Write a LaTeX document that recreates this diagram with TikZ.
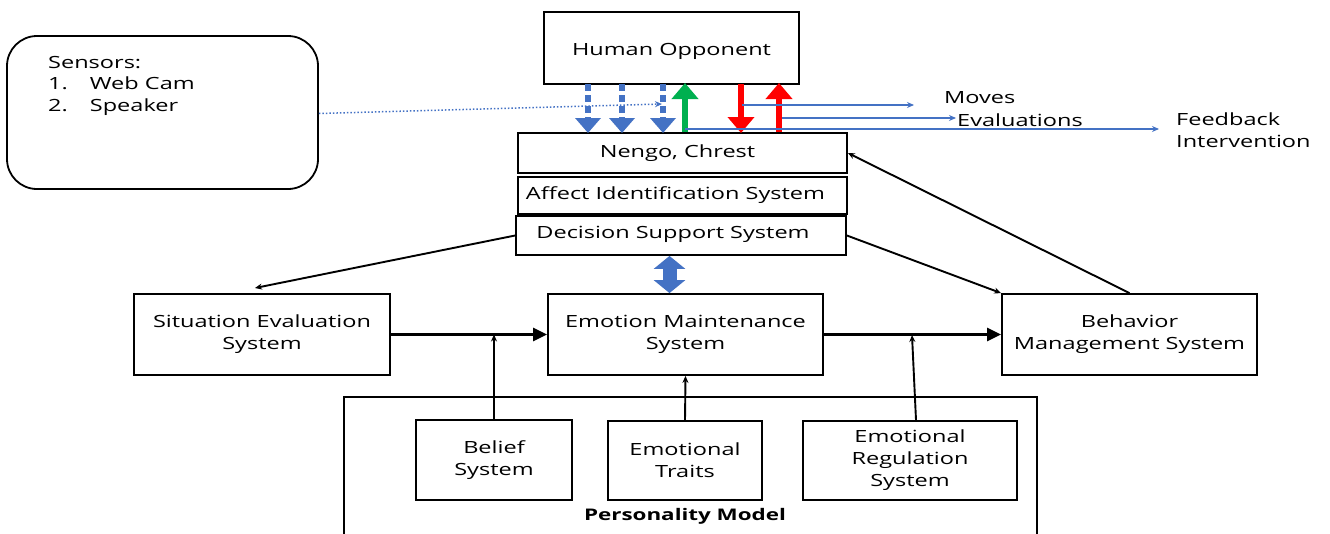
\documentclass[tikz,border=0pt]{standalone}
\usepackage{fontspec}
\setmainfont{Open Sans}[FakeStretch=1.4]
\usetikzlibrary{arrows.meta,calc}
\definecolor{oblue}{HTML}{4472C4}
\definecolor{ogreen}{HTML}{00B050}
\definecolor{ored}{HTML}{FF0000}
\begin{document}
\begin{tikzpicture}[x=1pt,y=-1pt,
  every node/.style={font=\fontsize{16.8}{22}\selectfont, inner sep=0pt},
  box/.style={draw=black, line width=1.8pt, align=center},
  link/.style={draw=black, line width=1.9pt, -{Stealth[length=7pt,width=6pt]}},
  flow/.style={draw=black, line width=2.6pt, -{Triangle[length=14pt,width=13pt]}},
  dashdown/.style={draw=oblue, line width=6.5pt, dash pattern=on 7pt off 4pt,
    -{Triangle[length=15pt,width=25pt]}},
  fat/.style={line width=6.5pt, -{Triangle[length=16pt,width=26pt]}},
  fb/.style={draw=oblue, line width=1.2pt, -{Stealth[length=7pt,width=6pt]}},
  lbl/.style={anchor=west, align=left}]
\useasboundingbox (0,0) rectangle (1330,533);

% Sensors panel
\node[draw=black, line width=1.8pt, rounded corners=30pt,
  minimum width=311pt, minimum height=153pt] (sensors) at (162.5,112.5) {};
\node[lbl, anchor=north west] (senstxt) at (48,56) {%
  Sensors:\\[-0.5pt]
  1.\hspace{22pt}Web Cam\\[-0.5pt]
  2.\hspace{22pt}Speaker};

% Top stack
\node[box, minimum width=255pt, minimum height=72pt] (human) at (671.5,48) {\raisebox{-3pt}[\height][\depth]{Human Opponent}};
\node[box, minimum width=329pt, minimum height=40pt] (nengo) at (682.5,153) {\hspace{-10pt}Nengo, Chrest};
\node[box, minimum width=329pt, minimum height=37pt] (affect) at (682.5,195.5) {\hspace{-14pt}Affect Identification System};
\node[box, minimum width=330pt, minimum height=39pt] (dss) at (681,235.5) {\hspace{-16pt}\raisebox{1.5pt}[\height][\depth]{Decision Support System}};

% Middle row
\node[box, minimum width=256pt, minimum height=81pt] (situation) at (262,334.5) {Situation Evaluation\\System};
\node[box, minimum width=275pt, minimum height=81pt] (emotion) at (685.5,334.5) {Emotion Maintenance\\System};
\node[box, minimum width=255pt, minimum height=81pt] (behavior) at (1129.5,334.5) {Behavior\\Management System};

% Personality model
\draw[line width=1.8pt] (344,545) -- (344,397) -- (1037,397) -- (1037,545);
\node[font=\fontsize{16}{18}\bfseries\selectfont] (pm) at (685,516) {Personality Model};
\node[box, minimum width=156pt, minimum height=80pt] (belief) at (494,460) {Belief\\System};
\node[box, minimum width=154pt, minimum height=79pt] (traits) at (685,460.5) {Emotional\\Traits};
\node[box, minimum width=214pt, minimum height=79pt] (regulation) at (910,460.5) {Emotional\\Regulation\\System};

% Connector end points
\coordinate (sitin) at (255,288);
\coordinate (belin) at (belief.north |- situation.east);
\coordinate (regout) at (916,420);
\coordinate (regin) at (912,335);
\coordinate (sensin) at (662,104);

% Sensor feed
\draw[oblue, line width=1.5pt, dotted, -{Stealth[length=7pt,width=6pt]}] (sensors.east) ++(0,1) -- (sensin);

% Dashed input arrows into Nengo
\foreach \xx/\nm in {588/d1,622/d2,663/d3}{
  \coordinate (\nm a) at (\xx,84);
  \coordinate (\nm b) at (\xx,133);
  \draw[dashdown] (\nm a) -- (\nm b);
}
% Green and red arrows
\coordinate (ga) at (685,132); \coordinate (gb) at (685,83);
\draw[ogreen, fat] (ga) -- (gb);
\coordinate (ra) at (741,84); \coordinate (rb) at (741,133);
\draw[ored, fat] (ra) -- (rb);
\coordinate (rc) at (779,132); \coordinate (rd) at (779,83);
\draw[ored, fat] (rc) -- (rd);

% Outputs
\coordinate (mv0) at (742,105); \coordinate (mv1) at (914,105);
\coordinate (ev0) at (782,118); \coordinate (ev1) at (956,118);
\coordinate (fb0) at (685,129); \coordinate (fb1) at (1159,129);
\draw[fb] (mv0) -- (mv1);
\draw[fb] (ev0) -- (ev1);
\draw[fb] (fb0) -- (fb1);
\node[lbl] (moves) at (944,98) {Moves};
\node[lbl] (evals) at (957,120) {Evaluations};
\node[lbl, anchor=north west] (feed) at (1176,113) {Feedback\\Intervention};

% Decision support links
\draw[link] (dss.west) -- (sitin);
\draw[link] (dss.east) -- (behavior.north west);
\draw[link] (behavior.north) -- (nengo.east);

% Bidirectional exchange
\draw[oblue, line width=14pt, {Triangle[length=13pt,width=31pt]}-{Triangle[length=13pt,width=31pt]}]
  (dss.south -| emotion.north) ++(-16,0) coordinate (bx0) -- (bx0 |- emotion.north);

% Main flow
\draw[flow] (situation.east) -- (emotion.west);
\draw[flow] (emotion.east) -- (behavior.west);
\draw[link] (belief.north) -- (belin);
\draw[link] (traits.north) -- (emotion.south);
\draw[link] (regout) -- (regin);
\end{tikzpicture}
\end{document}
